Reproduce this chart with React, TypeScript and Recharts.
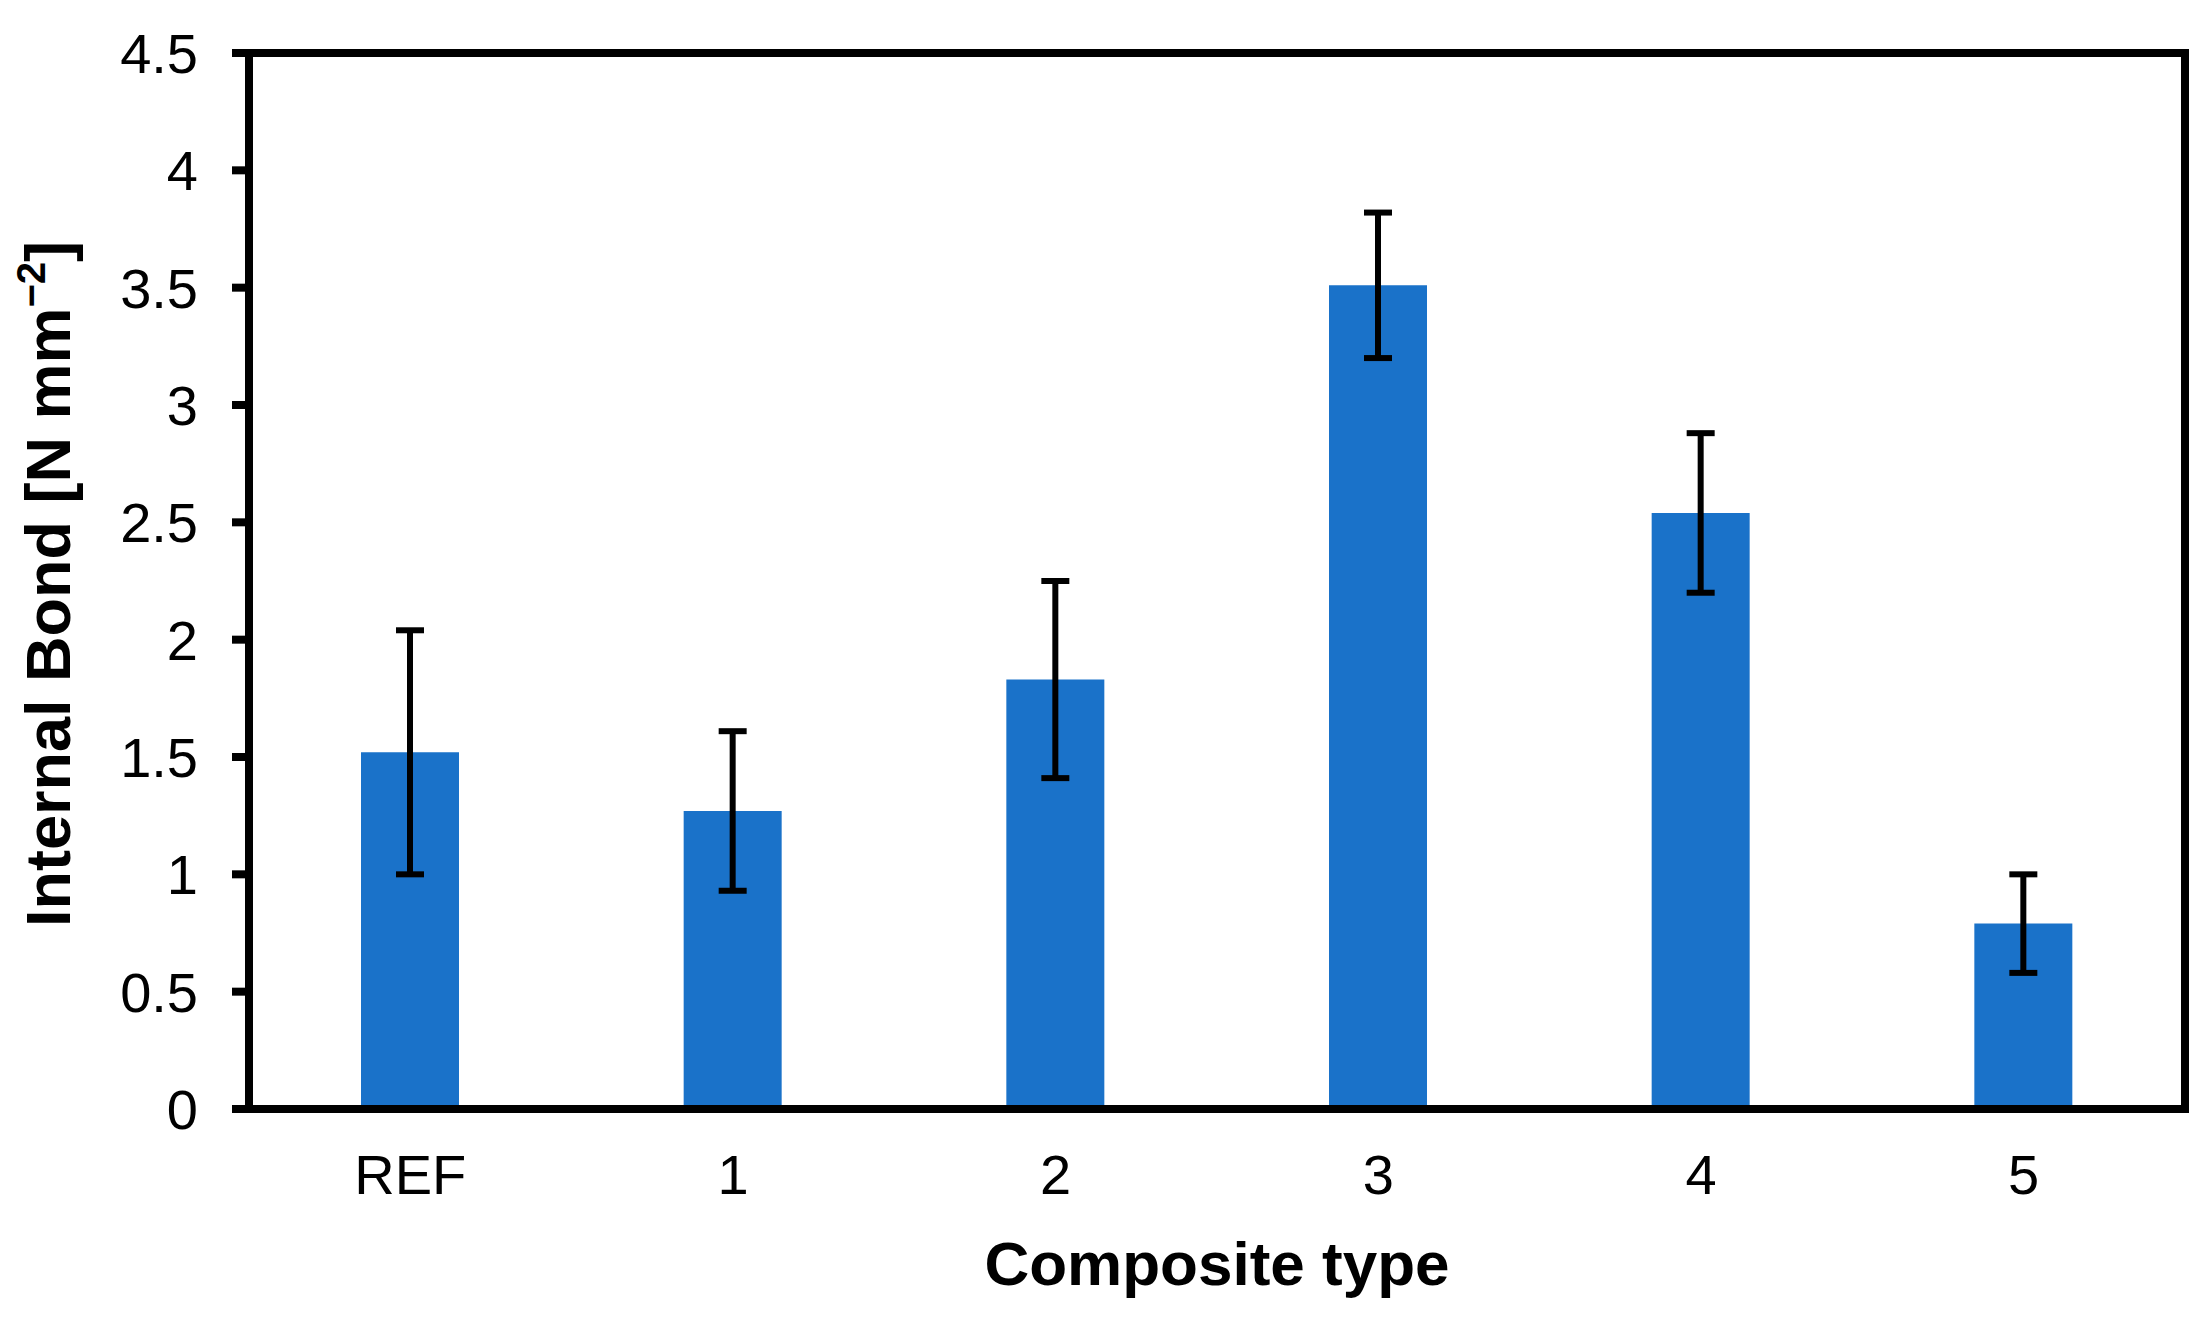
import React from 'react';
import { BarChart, Bar, XAxis, YAxis, ErrorBar } from 'recharts';

const categories = ['REF', '1', '2', '3', '4', '5'];
const means = [1.52, 1.27, 1.83, 3.51, 2.54, 0.79];
const errors = [0.52, 0.34, 0.42, 0.31, 0.34, 0.21];
const yTicks = [0, 0.5, 1, 1.5, 2, 2.5, 3, 3.5, 4, 4.5];

const data = categories.map((c, i) => ({ name: c, value: means[i], err: errors[i] }));

const FONT = '"Liberation Sans", Arial, sans-serif';
const BAR_COLOR = '#1A72C9';

const YTitle = (props: any) => {
  const vb = props.viewBox || {};
  const cx = 47;
  const cy = vb.y + vb.height / 2 + 3;
  return (
    <text
      x={cx}
      y={cy}
      dy="0.36em"
      textAnchor="middle"
      transform={`rotate(-90, ${cx}, ${cy})`}
      fontFamily={FONT}
      fontWeight="bold"
      fontSize={63}
      fill="#000"
    >
      Internal Bond [N mm
      <tspan fontSize={40} dy={-25}>−2</tspan>
      <tspan dy={25}>]</tspan>
    </text>
  );
};

export default function App() {
  return (
    <div style={{ position: 'absolute', left: 0, top: 0, width: 2206, height: 1327, background: '#fff' }}>
      <BarChart
        width={2206}
        height={1327}
        data={data}
        margin={{ top: 0, right: 0, bottom: 0, left: 0 }}
        barSize={98}
      >
        <XAxis
          dataKey="name"
          height={218}
          tickLine={false}
          tickSize={0}
          tickMargin={45}
          axisLine={{ stroke: '#000', strokeWidth: 8, strokeLinecap: 'square' }}
          tick={{ fill: '#000', fontSize: 56, fontFamily: FONT }}
          label={{
            value: 'Composite type',
            position: 'insideBottom',
            offset: 42,
            fill: '#000',
            fontSize: 62,
            fontWeight: 'bold',
            fontFamily: FONT,
          }}
        />
        <XAxis
          xAxisId="top"
          dataKey="name"
          orientation="top"
          height={53}
          tick={false}
          tickLine={false}
          axisLine={{ stroke: '#000', strokeWidth: 8, strokeLinecap: 'square' }}
        />
        <YAxis
          domain={[0, 4.5]}
          ticks={yTicks}
          width={249}
          tickSize={17}
          tickMargin={34}
          interval={0}
          tickLine={{ stroke: '#000', strokeWidth: 8 }}
          axisLine={{ stroke: '#000', strokeWidth: 8, strokeLinecap: 'square' }}
          tick={{ fill: '#000', fontSize: 56, fontFamily: FONT }}
          tickFormatter={(v: number) => String(v)}
          label={<YTitle />}
        />
        <YAxis
          yAxisId="right"
          orientation="right"
          domain={[0, 4.5]}
          width={21}
          tick={false}
          tickLine={false}
          axisLine={{ stroke: '#000', strokeWidth: 8, strokeLinecap: 'square' }}
        />
        <Bar dataKey="value" fill={BAR_COLOR} isAnimationActive={false}>
          <ErrorBar dataKey="err" width={14} stroke="#000" strokeWidth={6} isAnimationActive={false} />
        </Bar>
      </BarChart>
    </div>
  );
}
